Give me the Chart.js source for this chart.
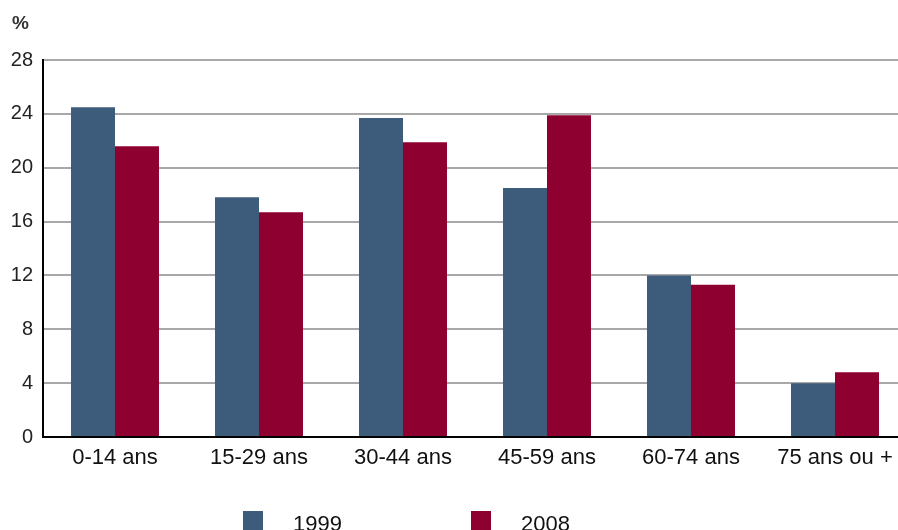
<!DOCTYPE html>
<html>
<head>
<meta charset="utf-8">
<title>Population par âge</title>
<script src="https://cdn.jsdelivr.net/npm/chart.js"></script>
<style>
  html, body { margin: 0; padding: 0; background: #fff; overflow: hidden; width: 898px; height: 530px; }
  #wrap { position: relative; width: 898px; height: 530px; }
  #chart { position: absolute; left: 0; top: 0; }
  #unit { position: absolute; left: 12px; top: 12px; font: bold 19px "Liberation Sans", Arial, sans-serif; color: #333; }
  #legend { position: absolute; left: 243px; top: 511px; display: flex; font: 22px "Liberation Sans", Arial, sans-serif; color: #111; }
  .item { width: 228px; display: flex; align-items: flex-start; }
  .box { width: 20px; height: 20px; margin-right: 30px; }
  .item span { line-height: 22px; margin-top: 2px; }
</style>
</head>
<body>
<div id="wrap">
  <canvas id="chart" width="920" height="530"></canvas>
  <div id="unit">%</div>
  <div id="legend"></div>
</div>
<script>
// tranches d'âge
const categories = ['0-14 ans', '15-29 ans', '30-44 ans', '45-59 ans', '60-74 ans', '75 ans ou +'];
const years = ['1999', '2008'];
const values1999 = [24.5, 17.8, 23.7, 18.5, 12.0, 4.0];
const values2008 = [21.6, 16.7, 21.9, 23.9, 11.3, 4.8];
const colors = ['#3d5b7a', '#8e002f'];
const yTicks = [0, 4, 8, 12, 16, 20, 24, 28];

const font = '"Liberation Sans", Arial, sans-serif';

new Chart(document.getElementById('chart'), {
    type: 'bar',
    data: {
        labels: categories,
        datasets: [
            { label: years[0], data: values1999, backgroundColor: colors[0] },
            { label: years[1], data: values2008, backgroundColor: colors[1] }
        ]
    },
    options: {
        responsive: false,
        animation: false,
        layout: { padding: { left: 0, top: 60, right: 13, bottom: 0 } },
        categoryPercentage: 0.611,
        barPercentage: 1,
        plugins: { legend: { display: false }, tooltip: { enabled: false } },
        scales: {
            x: {
                grid: { display: false, drawTicks: false },
                border: { color: '#000', width: 2 },
                ticks: { color: '#111', font: { family: font, size: 22 }, padding: 8, maxRotation: 0, autoSkip: false },
                afterFit: s => { s.height = 93; }
            },
            y: {
                min: 0,
                max: 28,
                afterBuildTicks: s => { s.ticks = yTicks.map(v => ({ value: v })); },
                grid: { color: '#a8a8a8', lineWidth: 2, drawTicks: false },
                border: { color: '#000', width: 2 },
                ticks: { color: '#222', font: { family: font, size: 20 }, padding: 10 },
                afterFit: s => { s.width = 43; }
            }
        }
    }
});

// légende en bas
const legend = document.getElementById('legend');
years.forEach((y, i) => {
    legend.insertAdjacentHTML('beforeend',
        `<div class="item"><div class="box" style="background:${colors[i]}"></div><span>${y}</span></div>`);
});
</script>
</body>
</html>
